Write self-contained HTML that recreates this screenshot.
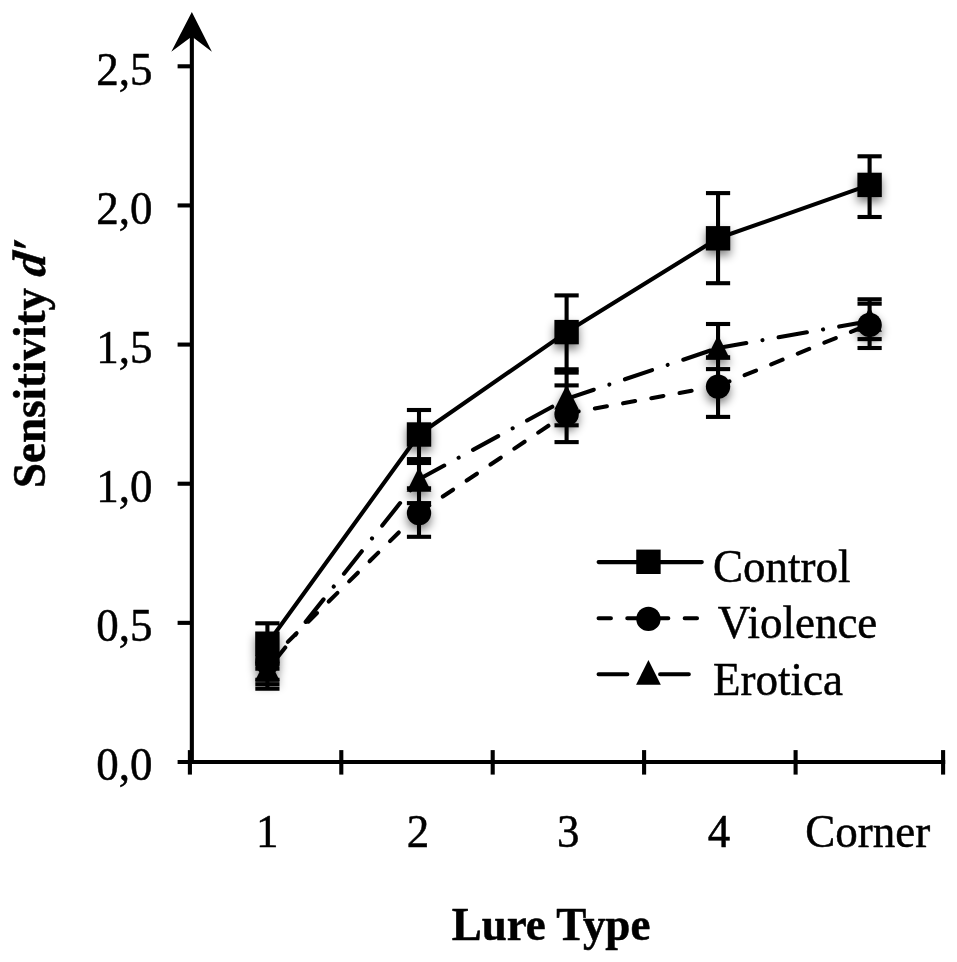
<!DOCTYPE html>
<html><head><meta charset="utf-8"><title>Sensitivity d′ by Lure Type</title>
<style>
html,body{margin:0;padding:0;background:#fff;}
body{width:957px;height:962px;overflow:hidden;}
svg{display:block;opacity:0.999;}
text{font-family:"Liberation Serif",serif;fill:#000;stroke:#000;stroke-width:0.5px;stroke-linejoin:round;}
</style></head><body>
<svg width="957" height="962" viewBox="0 0 957 962">
<defs>
<filter id="sh" x="-60%" y="-60%" width="220%" height="220%"><feGaussianBlur in="SourceAlpha" stdDeviation="4.7" result="b"/><feOffset in="b" dx="0" dy="4.7" result="o"/><feComponentTransfer in="o" result="s"><feFuncA type="linear" slope="0.5"/></feComponentTransfer><feMerge><feMergeNode in="s"/><feMergeNode in="SourceGraphic"/></feMerge></filter>
</defs>
<rect x="0" y="0" width="957" height="962" fill="#fff"/>
<g stroke="#000" stroke-width="4.10" fill="none" stroke-linecap="butt">
<line x1="191.85" y1="36" x2="191.85" y2="764.0"/>
<line x1="177.6" y1="761.95" x2="945.2" y2="761.95"/>
<line x1="177.6" y1="622.86" x2="190" y2="622.86"/>
<line x1="177.6" y1="483.72" x2="190" y2="483.72"/>
<line x1="177.6" y1="344.58" x2="190" y2="344.58"/>
<line x1="177.6" y1="205.44" x2="190" y2="205.44"/>
<line x1="177.6" y1="66.30" x2="190" y2="66.30"/>
<line x1="189.90" y1="750.1" x2="189.90" y2="774.6"/>
<line x1="341.30" y1="750.1" x2="341.30" y2="774.6"/>
<line x1="492.70" y1="750.1" x2="492.70" y2="774.6"/>
<line x1="644.10" y1="750.1" x2="644.10" y2="774.6"/>
<line x1="795.60" y1="750.1" x2="795.60" y2="774.6"/>
<line x1="943.10" y1="750.1" x2="943.10" y2="774.6"/>
</g>
<polygon points="191.85,11.9 171.3,51.7 191.85,36.6 211.9,51.7" fill="#000"/>
<g stroke="#000" stroke-width="4.10" fill="none" stroke-linecap="round" stroke-linejoin="round">
<path d="M267.40 643.70 L419.00 434.50 L566.60 332.10 L718.05 238.30 L869.60 184.90"/>
<path d="M267.40 662.00 L408.81 522.55" stroke-dasharray="12.3 16.4"/>
<path d="M419.00 512.50 L560.14 417.93" stroke-dasharray="12.3 16.4"/>
<path d="M566.60 413.60 L705.51 388.28" stroke-dasharray="12.3 16.4"/>
<path d="M718.05 386.00 L864.97 326.19" stroke-dasharray="12.3 16.4"/>
<path d="M267.40 670.00 L415.89 483.21" stroke-dasharray="28.7 16.4 0.01 16.4"/>
<path d="M419.00 479.30 L562.21 401.29" stroke-dasharray="28.7 16.4 0.01 16.4"/>
<path d="M566.60 398.90 L713.31 349.59" stroke-dasharray="28.7 16.4 0.01 16.4"/>
<path d="M718.05 348.00 L864.68 322.07" stroke-dasharray="28.7 16.4 0.01 16.4"/>
</g>
<g stroke="#000" stroke-width="4.10" fill="none" stroke-linecap="butt">
<line x1="267.40" y1="623.30" x2="267.40" y2="688.70"/>
<line x1="255.30" y1="623.30" x2="279.50" y2="623.30"/>
<line x1="255.30" y1="657.20" x2="279.50" y2="657.20"/>
<line x1="255.30" y1="660.80" x2="279.50" y2="660.80"/>
<line x1="255.30" y1="664.40" x2="279.50" y2="664.40"/>
<line x1="255.30" y1="668.70" x2="279.50" y2="668.70"/>
<line x1="255.30" y1="679.80" x2="279.50" y2="679.80"/>
<line x1="255.30" y1="684.20" x2="279.50" y2="684.20"/>
<line x1="255.30" y1="688.70" x2="279.50" y2="688.70"/>
<line x1="419.00" y1="410.00" x2="419.00" y2="459.10"/>
<line x1="419.00" y1="463.00" x2="419.00" y2="536.80"/>
<line x1="406.90" y1="410.00" x2="431.10" y2="410.00"/>
<line x1="406.90" y1="459.10" x2="431.10" y2="459.10"/>
<line x1="406.90" y1="463.00" x2="431.10" y2="463.00"/>
<line x1="406.90" y1="488.30" x2="431.10" y2="488.30"/>
<line x1="406.90" y1="503.10" x2="431.10" y2="503.10"/>
<line x1="406.90" y1="536.80" x2="431.10" y2="536.80"/>
<line x1="566.60" y1="295.40" x2="566.60" y2="369.30"/>
<line x1="566.60" y1="372.60" x2="566.60" y2="442.10"/>
<line x1="554.50" y1="295.40" x2="578.70" y2="295.40"/>
<line x1="554.50" y1="369.30" x2="578.70" y2="369.30"/>
<line x1="554.50" y1="372.60" x2="578.70" y2="372.60"/>
<line x1="554.50" y1="385.40" x2="578.70" y2="385.40"/>
<line x1="554.50" y1="425.30" x2="578.70" y2="425.30"/>
<line x1="554.50" y1="442.10" x2="578.70" y2="442.10"/>
<line x1="718.05" y1="193.10" x2="718.05" y2="283.20"/>
<line x1="718.05" y1="324.00" x2="718.05" y2="416.90"/>
<line x1="705.95" y1="193.10" x2="730.15" y2="193.10"/>
<line x1="705.95" y1="283.20" x2="730.15" y2="283.20"/>
<line x1="705.95" y1="324.00" x2="730.15" y2="324.00"/>
<line x1="705.95" y1="357.30" x2="730.15" y2="357.30"/>
<line x1="705.95" y1="369.10" x2="730.15" y2="369.10"/>
<line x1="705.95" y1="416.90" x2="730.15" y2="416.90"/>
<line x1="869.60" y1="156.30" x2="869.60" y2="217.00"/>
<line x1="869.60" y1="299.30" x2="869.60" y2="348.00"/>
<line x1="857.50" y1="156.30" x2="881.70" y2="156.30"/>
<line x1="857.50" y1="217.00" x2="881.70" y2="217.00"/>
<line x1="857.50" y1="299.30" x2="881.70" y2="299.30"/>
<line x1="857.50" y1="303.70" x2="881.70" y2="303.70"/>
<line x1="857.50" y1="339.10" x2="881.70" y2="339.10"/>
<line x1="857.50" y1="348.00" x2="881.70" y2="348.00"/>
</g>
<g fill="#000" filter="url(#sh)">
<rect x="255.20" y="631.50" width="24.40" height="24.40"/>
<rect x="406.80" y="422.30" width="24.40" height="24.40"/>
<rect x="554.40" y="319.90" width="24.40" height="24.40"/>
<rect x="705.85" y="226.10" width="24.40" height="24.40"/>
<rect x="857.40" y="172.70" width="24.40" height="24.40"/>
<circle cx="267.40" cy="662.60" r="12.20"/>
<circle cx="419.00" cy="513.10" r="12.20"/>
<circle cx="566.60" cy="414.20" r="12.20"/>
<circle cx="718.05" cy="386.60" r="12.20"/>
<circle cx="869.60" cy="324.90" r="12.20"/>
<polygon points="267.40,656.00 255.05,680.70 279.75,680.70"/>
<polygon points="419.00,467.10 406.65,491.80 431.35,491.80"/>
<polygon points="566.60,384.70 554.25,409.40 578.95,409.40"/>
<polygon points="718.05,335.10 705.70,359.80 730.40,359.80"/>
<polygon points="869.60,307.00 857.25,331.70 881.95,331.70"/>
</g>
<g stroke="#000" stroke-width="4.10" fill="none" stroke-linecap="round">
<line x1="598.6" y1="562.1" x2="701.8" y2="562.1"/>
<line x1="598.6" y1="618.2" x2="698" y2="618.2" stroke-dasharray="12.3 16.4"/>
<line x1="598.6" y1="674.3" x2="690" y2="674.3" stroke-dasharray="28.7 16.4 0.01 16.4"/>
</g>
<g fill="#000">
<rect x="636.25" y="549.60" width="24.40" height="24.40"/>
<circle cx="648.45" cy="618.90" r="12.20"/>
<polygon points="648.45,660.10 636.10,684.80 660.80,684.80"/>
</g>
<g font-size="45px">
<text transform="translate(713.00,582.00) scale(1,1.030)" text-anchor="start">Control</text>
<text transform="translate(717.70,638.00) scale(1,1.030)" text-anchor="start">Violence</text>
<text transform="translate(713.00,694.50) scale(1,1.030)" text-anchor="start">Erotica</text>
</g>
<g font-size="45px">
<text transform="translate(152.60,780.40) scale(1,1.045)" text-anchor="end">0,0</text>
<text transform="translate(152.60,641.26) scale(1,1.045)" text-anchor="end">0,5</text>
<text transform="translate(152.60,502.12) scale(1,1.045)" text-anchor="end">1,0</text>
<text transform="translate(152.60,362.98) scale(1,1.045)" text-anchor="end">1,5</text>
<text transform="translate(152.60,223.84) scale(1,1.045)" text-anchor="end">2,0</text>
<text transform="translate(152.60,84.70) scale(1,1.045)" text-anchor="end">2,5</text>
<text transform="translate(267.30,846.80) scale(1,1.045)" text-anchor="middle">1</text>
<text transform="translate(418.10,846.80) scale(1,1.045)" text-anchor="middle">2</text>
<text transform="translate(568.20,846.80) scale(1,1.045)" text-anchor="middle">3</text>
<text transform="translate(718.90,846.80) scale(1,1.045)" text-anchor="middle">4</text>
<text transform="translate(867.70,846.80) scale(1,1.045)" text-anchor="middle">Corner</text>
</g>
<text transform="translate(551,939.7) scale(1,1.035)" font-size="45px" font-weight="bold" text-anchor="middle">Lure Type</text>
<text transform="translate(44.6,488.0) rotate(-90) scale(1,1.04)" font-size="45px" font-weight="bold" text-anchor="start">Sensitivity</text>
<text transform="translate(44.6,241.3) rotate(-90) scale(1.03,1.04) skewX(-7)" font-size="45px" font-weight="bold" font-style="italic" text-anchor="end">d′</text>
</svg>
</body></html>
